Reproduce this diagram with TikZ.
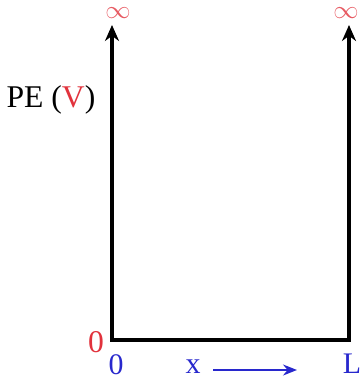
\documentclass[tikz,border=0pt]{standalone}
\usepackage{fontspec}
\setmainfont{Liberation Serif}
\usetikzlibrary{arrows.meta, positioning}
\definecolor{labred}{RGB}{225,50,60}
\definecolor{labblue}{RGB}{40,40,205}

\begin{document}
\begin{tikzpicture}[
    x=0.02cm, y=-0.02cm,
    wall/.style={line width=2.2pt, {Stealth[length=3.2mm,width=2.8mm]}-{Stealth[length=3.2mm,width=2.8mm]}},
    lab/.style={inner sep=0pt, font=\fontsize{18}{20}\selectfont},
    redlab/.style={lab, text=labred},
    inflab/.style={inner sep=0pt, text=labred!80, font=\fontsize{15}{17}\selectfont},
    bluelab/.style={lab, text=labblue, font=\fontsize{17}{19}\selectfont},
    arrow/.style={labblue, line width=0.9pt, -{Stealth[length=2.8mm,width=2.2mm]}}
]
\useasboundingbox (0,0) rectangle (361,381);
\coordinate (tl) at (112,25);
\coordinate (bl) at (112,340);
\coordinate (br) at (349,340);
\coordinate (tr) at (349,25);
\draw[wall] (tl) -- (bl) -- (br) -- (tr);
\node[inflab] (infl) at (118,13) {$\infty$};
\node[inflab] (infr) at (346,13) {$\infty$};
\node[lab] (pe) at (51,100) {PE (\textcolor{labred}{V})};
\node[redlab] (zy) at (96,342) {0};
\node[bluelab] (zx) at (116,365) {0};
\node[bluelab] (xl) at (193,367) {x};
\node[bluelab] (ll) at (352,364) {L};
\coordinate (xa) at (213,370);
\coordinate (xb) at (297,370);
\draw[arrow] (xa) -- (xb);
\end{tikzpicture}
\end{document}
